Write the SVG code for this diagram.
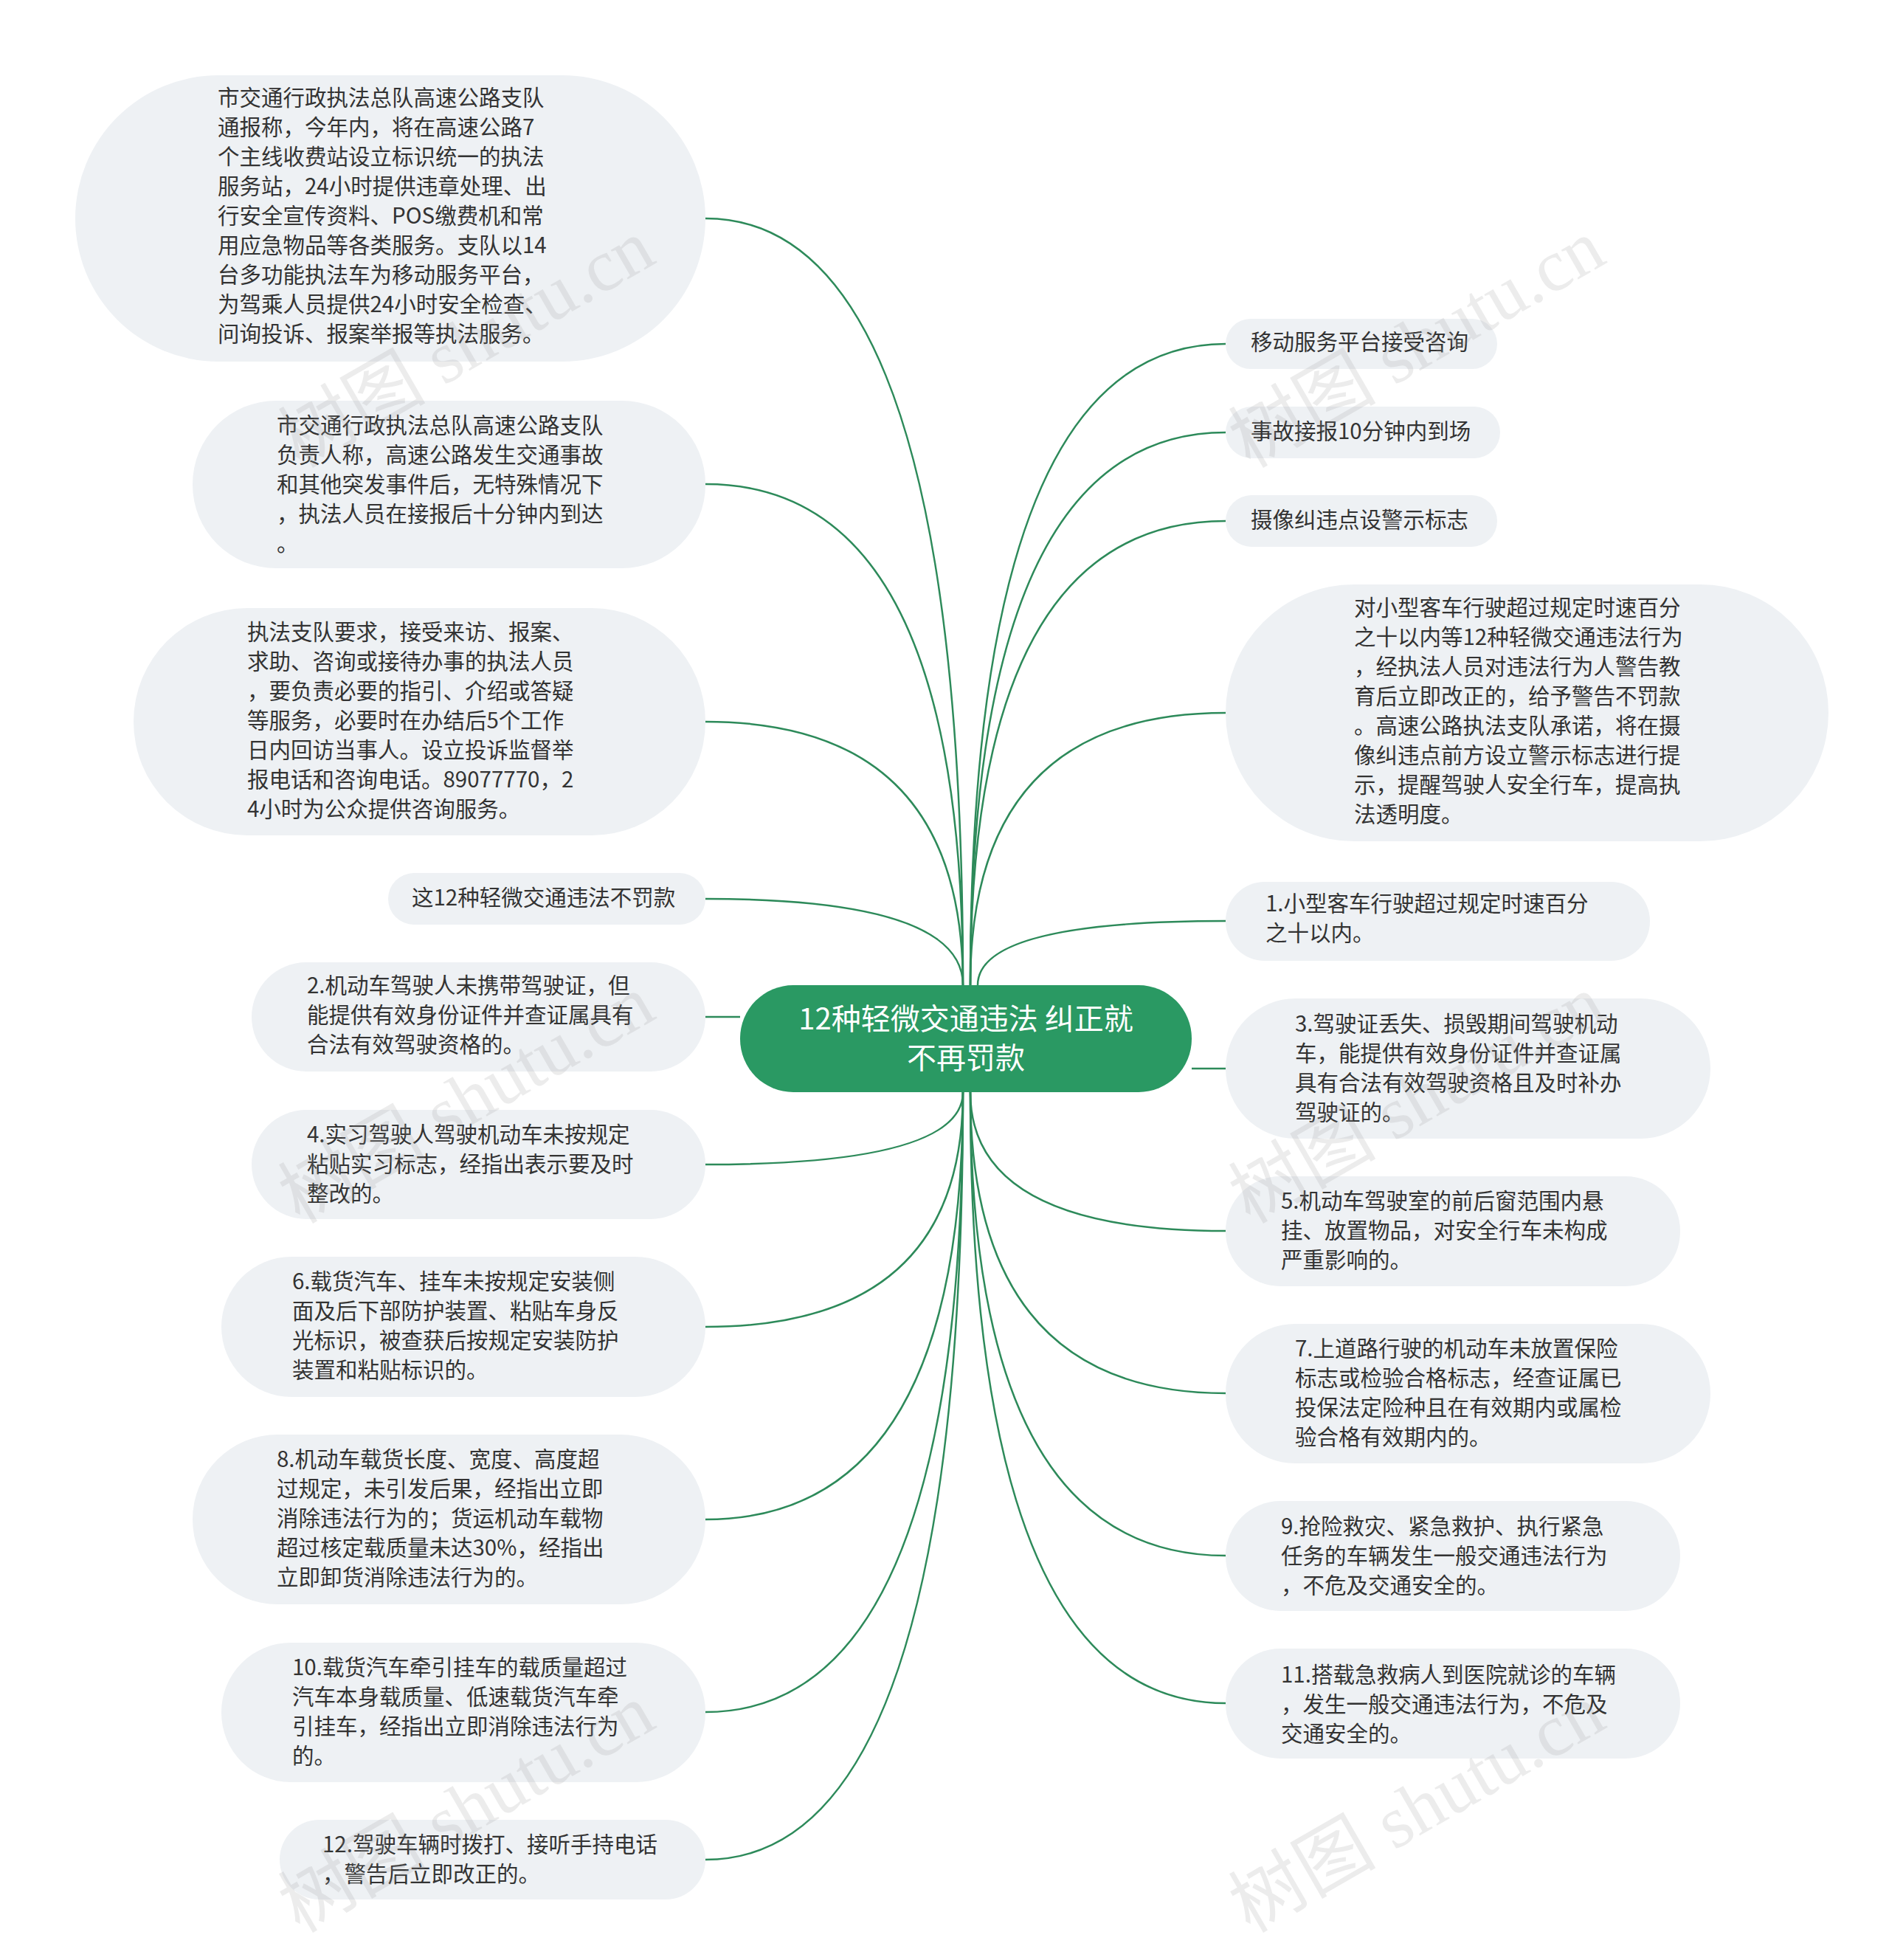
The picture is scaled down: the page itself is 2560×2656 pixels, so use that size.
<svg xmlns="http://www.w3.org/2000/svg" width="2560" height="2656" viewBox="0 0 2560 2656">
<style>
.n{fill:#eef1f4}
.t{font-family:"Noto Sans CJK SC","Noto Sans",sans-serif;font-size:29.5px;fill:#333}
.c{fill:none;stroke:#2d8a5a;stroke-width:2.5}
.w{font-family:"Liberation Serif","Noto Sans CJK SC",serif;font-size:100px;fill:#999;opacity:0.18}
</style>
<rect width="2560" height="2656" fill="#fff"/>
<g id="connectors">
<path class="c" d="M1305,1335 Q1305,296 956,296"/>
<path class="c" d="M1305,1335 Q1305,656 956,656"/>
<path class="c" d="M1305,1335 Q1305,978 956,978"/>
<path class="c" d="M1305,1335 Q1305,1218 956,1218"/>
<path class="c" d="M1003,1378 L956,1378"/>
<path class="c" d="M1305,1480 Q1305,1578 956,1578"/>
<path class="c" d="M1305,1480 Q1305,1798 956,1798"/>
<path class="c" d="M1305,1480 Q1305,2059 956,2059"/>
<path class="c" d="M1305,1480 Q1305,2320 956,2320"/>
<path class="c" d="M1305,1480 Q1305,2520 956,2520"/>
<path class="c" d="M1315,1335 Q1315,466 1661,466"/>
<path class="c" d="M1315,1335 Q1315,586 1661,586"/>
<path class="c" d="M1315,1335 Q1315,706 1661,706"/>
<path class="c" d="M1315,1335 Q1315,966 1661,966"/>
<path class="c" d="M1325,1335 Q1325,1248 1661,1248"/>
<path class="c" d="M1615,1448 L1661,1448"/>
<path class="c" d="M1315,1480 Q1315,1668 1661,1668"/>
<path class="c" d="M1315,1480 Q1315,1888 1661,1888"/>
<path class="c" d="M1315,1480 Q1315,2108 1661,2108"/>
<path class="c" d="M1315,1480 Q1315,2308 1661,2308"/>
</g>
<g id="center">
<rect x="1003" y="1335" width="612" height="145" rx="72" fill="#2a9963"/>
<text x="1309" y="1395" text-anchor="middle" font-family="Noto Sans CJK SC,sans-serif" font-size="40" fill="#fff">12种轻微交通违法 纠正就</text>
<text x="1309" y="1448" text-anchor="middle" font-family="Noto Sans CJK SC,sans-serif" font-size="40" fill="#fff">不再罚款</text>
</g>
<g id="L1"><rect class="n" x="102" y="102" width="854" height="388" rx="194"/>
<text class="t" x="295" y="143"><tspan x="295">市交通行政执法总队高速公路支队</tspan><tspan x="295" dy="40">通报称，今年内，将在高速公路7</tspan><tspan x="295" dy="40">个主线收费站设立标识统一的执法</tspan><tspan x="295" dy="40">服务站，24小时提供违章处理、出</tspan><tspan x="295" dy="40">行安全宣传资料、POS缴费机和常</tspan><tspan x="295" dy="40">用应急物品等各类服务。支队以14</tspan><tspan x="295" dy="40">台多功能执法车为移动服务平台，</tspan><tspan x="295" dy="40">为驾乘人员提供24小时安全检查、</tspan><tspan x="295" dy="40">问询投诉、报案举报等执法服务。</tspan></text></g>
<g id="L2"><rect class="n" x="261" y="543" width="695" height="227" rx="113"/>
<text class="t" x="375" y="587"><tspan x="375">市交通行政执法总队高速公路支队</tspan><tspan x="375" dy="40">负责人称，高速公路发生交通事故</tspan><tspan x="375" dy="40">和其他突发事件后，无特殊情况下</tspan><tspan x="375" dy="40">，执法人员在接报后十分钟内到达</tspan><tspan x="375" dy="40">。</tspan></text></g>
<g id="L3"><rect class="n" x="181" y="824" width="775" height="308" rx="154"/>
<text class="t" x="335" y="867"><tspan x="335">执法支队要求，接受来访、报案、</tspan><tspan x="335" dy="40">求助、咨询或接待办事的执法人员</tspan><tspan x="335" dy="40">，要负责必要的指引、介绍或答疑</tspan><tspan x="335" dy="40">等服务，必要时在办结后5个工作</tspan><tspan x="335" dy="40">日内回访当事人。设立投诉监督举</tspan><tspan x="335" dy="40">报电话和咨询电话。89077770，2</tspan><tspan x="335" dy="40">4小时为公众提供咨询服务。</tspan></text></g>
<g id="L4"><rect class="n" x="526" y="1183" width="430" height="70" rx="35"/>
<text class="t" x="558" y="1227">这12种轻微交通违法不罚款</text></g>
<g id="L5"><rect class="n" x="341" y="1304" width="615" height="148" rx="74"/>
<text class="t" x="416" y="1346"><tspan x="416">2.机动车驾驶人未携带驾驶证，但</tspan><tspan x="416" dy="40">能提供有效身份证件并查证属具有</tspan><tspan x="416" dy="40">合法有效驾驶资格的。</tspan></text></g>
<g id="L6"><rect class="n" x="341" y="1504" width="615" height="148" rx="74"/>
<text class="t" x="416" y="1548"><tspan x="416">4.实习驾驶人驾驶机动车未按规定</tspan><tspan x="416" dy="40">粘贴实习标志，经指出表示要及时</tspan><tspan x="416" dy="40">整改的。</tspan></text></g>
<g id="L7"><rect class="n" x="300" y="1703" width="656" height="190" rx="95"/>
<text class="t" x="396" y="1747"><tspan x="396">6.载货汽车、挂车未按规定安装侧</tspan><tspan x="396" dy="40">面及后下部防护装置、粘贴车身反</tspan><tspan x="396" dy="40">光标识，被查获后按规定安装防护</tspan><tspan x="396" dy="40">装置和粘贴标识的。</tspan></text></g>
<g id="L8"><rect class="n" x="261" y="1944" width="695" height="230" rx="115"/>
<text class="t" x="375" y="1988"><tspan x="375">8.机动车载货长度、宽度、高度超</tspan><tspan x="375" dy="40">过规定，未引发后果，经指出立即</tspan><tspan x="375" dy="40">消除违法行为的；货运机动车载物</tspan><tspan x="375" dy="40">超过核定载质量未达30%，经指出</tspan><tspan x="375" dy="40">立即卸货消除违法行为的。</tspan></text></g>
<g id="L9"><rect class="n" x="300" y="2226" width="656" height="189" rx="94"/>
<text class="t" x="396" y="2270"><tspan x="396">10.载货汽车牵引挂车的载质量超过</tspan><tspan x="396" dy="40">汽车本身载质量、低速载货汽车牵</tspan><tspan x="396" dy="40">引挂车，经指出立即消除违法行为</tspan><tspan x="396" dy="40">的。</tspan></text></g>
<g id="L10"><rect class="n" x="379" y="2466" width="577" height="108" rx="54"/>
<text class="t" x="437" y="2510"><tspan x="437">12.驾驶车辆时拨打、接听手持电话</tspan><tspan x="437" dy="40">，警告后立即改正的。</tspan></text></g>
<g id="R1"><rect class="n" x="1661" y="432" width="368" height="68" rx="34"/>
<text class="t" x="1695" y="474">移动服务平台接受咨询</text></g>
<g id="R2"><rect class="n" x="1661" y="551" width="372" height="70" rx="35"/>
<text class="t" x="1695" y="595">事故接报10分钟内到场</text></g>
<g id="R3"><rect class="n" x="1661" y="671" width="368" height="70" rx="35"/>
<text class="t" x="1695" y="715">摄像纠违点设警示标志</text></g>
<g id="R4"><rect class="n" x="1661" y="792" width="817" height="348" rx="174"/>
<text class="t" x="1835" y="834"><tspan x="1835">对小型客车行驶超过规定时速百分</tspan><tspan x="1835" dy="40">之十以内等12种轻微交通违法行为</tspan><tspan x="1835" dy="40">，经执法人员对违法行为人警告教</tspan><tspan x="1835" dy="40">育后立即改正的，给予警告不罚款</tspan><tspan x="1835" dy="40">。高速公路执法支队承诺，将在摄</tspan><tspan x="1835" dy="40">像纠违点前方设立警示标志进行提</tspan><tspan x="1835" dy="40">示，提醒驾驶人安全行车，提高执</tspan><tspan x="1835" dy="40">法透明度。</tspan></text></g>
<g id="R5"><rect class="n" x="1661" y="1195" width="575" height="107" rx="53"/>
<text class="t" x="1715" y="1235"><tspan x="1715">1.小型客车行驶超过规定时速百分</tspan><tspan x="1715" dy="40">之十以内。</tspan></text></g>
<g id="R6"><rect class="n" x="1661" y="1353" width="657" height="190" rx="95"/>
<text class="t" x="1755" y="1398"><tspan x="1755">3.驾驶证丢失、损毁期间驾驶机动</tspan><tspan x="1755" dy="40">车，能提供有效身份证件并查证属</tspan><tspan x="1755" dy="40">具有合法有效驾驶资格且及时补办</tspan><tspan x="1755" dy="40">驾驶证的。</tspan></text></g>
<g id="R7"><rect class="n" x="1661" y="1594" width="616" height="149" rx="74"/>
<text class="t" x="1736" y="1638"><tspan x="1736">5.机动车驾驶室的前后窗范围内悬</tspan><tspan x="1736" dy="40">挂、放置物品，对安全行车未构成</tspan><tspan x="1736" dy="40">严重影响的。</tspan></text></g>
<g id="R8"><rect class="n" x="1661" y="1794" width="657" height="189" rx="94"/>
<text class="t" x="1755" y="1838"><tspan x="1755">7.上道路行驶的机动车未放置保险</tspan><tspan x="1755" dy="40">标志或检验合格标志，经查证属已</tspan><tspan x="1755" dy="40">投保法定险种且在有效期内或属检</tspan><tspan x="1755" dy="40">验合格有效期内的。</tspan></text></g>
<g id="R9"><rect class="n" x="1661" y="2034" width="616" height="149" rx="74"/>
<text class="t" x="1736" y="2079"><tspan x="1736">9.抢险救灾、紧急救护、执行紧急</tspan><tspan x="1736" dy="40">任务的车辆发生一般交通违法行为</tspan><tspan x="1736" dy="40">，不危及交通安全的。</tspan></text></g>
<g id="R10"><rect class="n" x="1661" y="2234" width="616" height="149" rx="74"/>
<text class="t" x="1736" y="2280"><tspan x="1736">11.搭载急救病人到医院就诊的车辆</tspan><tspan x="1736" dy="40">，发生一般交通违法行为，不危及</tspan><tspan x="1736" dy="40">交通安全的。</tspan></text></g>
<g id="watermarks">
<text class="w" transform="translate(649,495) rotate(-30)" text-anchor="middle">树图 shutu.cn</text>
<text class="w" transform="translate(649,1519) rotate(-30)" text-anchor="middle">树图 shutu.cn</text>
<text class="w" transform="translate(649,2480) rotate(-30)" text-anchor="middle">树图 shutu.cn</text>
<text class="w" transform="translate(1937,495) rotate(-30)" text-anchor="middle">树图 shutu.cn</text>
<text class="w" transform="translate(1937,1519) rotate(-30)" text-anchor="middle">树图 shutu.cn</text>
<text class="w" transform="translate(1937,2480) rotate(-30)" text-anchor="middle">树图 shutu.cn</text>
</g>
</svg>
